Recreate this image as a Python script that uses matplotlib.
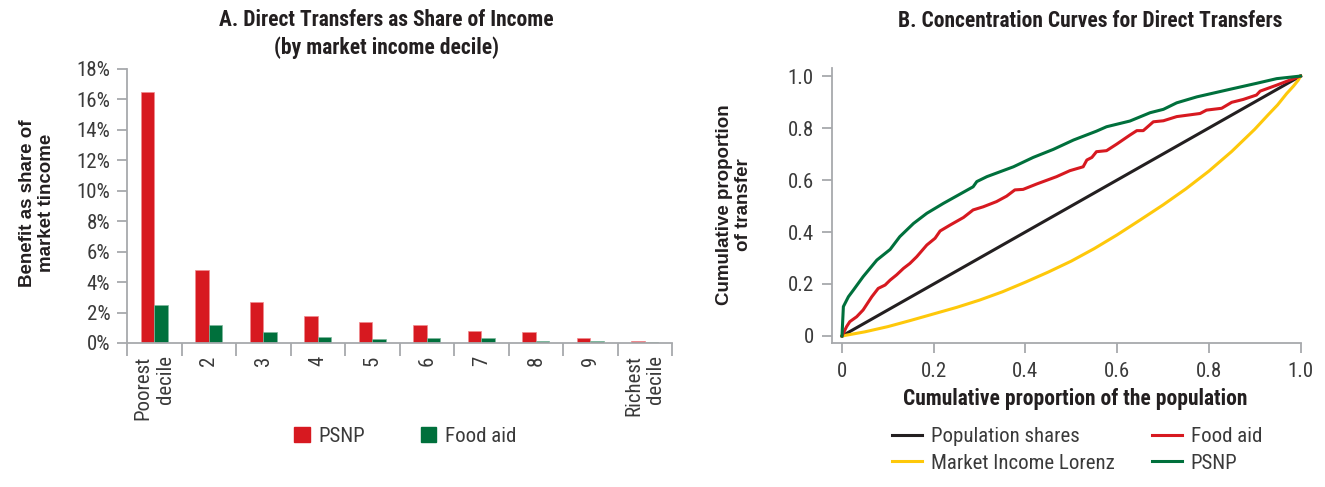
import matplotlib
matplotlib.use("Agg")
import matplotlib.pyplot as plt
from matplotlib import font_manager
from matplotlib.patches import Patch
from matplotlib.lines import Line2D

# fonts: narrow family for most text, regular width for the rotated y labels
names = {f.name for f in font_manager.fontManager.ttflist}
narrow = next((f for f in ["Liberation Sans Narrow", "Roboto Condensed", "DejaVu Sans"] if f in names), "DejaVu Sans")
wide = "Liberation Sans" if "Liberation Sans" in names else "DejaVu Sans"
plt.rcParams["font.family"] = [narrow, "DejaVu Sans"]

# %%
# Panel A data: transfers as % of market income, by decile
deciles = ["Poorest\ndecile", "2", "3", "4", "5", "6", "7", "8", "9", "Richest\ndecile"]
psnp_share = [16.5, 4.8, 2.7, 1.8, 1.35, 1.15, 0.8, 0.7, 0.35, 0.1]
food_share = [2.5, 1.15, 0.75, 0.38, 0.25, 0.35, 0.3, 0.1, 0.1, 0.05]
pct_ticks = [0, 2, 4, 6, 8, 10, 12, 14, 16, 18]

# Panel B data: concentration curves
pop_x = [0.0, 1.0]
pop_y = [0.0, 1.0]

lorenz_x = [0.0, 0.05, 0.10, 0.15, 0.20, 0.25, 0.30, 0.35, 0.40, 0.45, 0.50, 0.55, 0.60, 0.65,
            0.70, 0.75, 0.80, 0.85, 0.90, 0.93, 0.95, 0.97, 0.985, 0.995, 1.0]
lorenz_y = [0.0, 0.016, 0.036, 0.060, 0.085, 0.110, 0.138, 0.170, 0.207, 0.246, 0.288, 0.336,
            0.389, 0.446, 0.504, 0.566, 0.634, 0.710, 0.795, 0.852, 0.889, 0.933, 0.962, 0.984, 1.0]

food_x = [0.0, 0.010, 0.017, 0.032, 0.046, 0.065, 0.079, 0.094, 0.105, 0.119, 0.134, 0.148, 0.163,
          0.185, 0.203, 0.214, 0.236, 0.265, 0.286, 0.308, 0.337, 0.359, 0.377, 0.395, 0.425, 0.468,
          0.497, 0.526, 0.534, 0.545, 0.555, 0.577, 0.599, 0.628, 0.643, 0.657, 0.679, 0.701, 0.730,
          0.781, 0.795, 0.828, 0.850, 0.875, 0.904, 0.912, 0.948, 1.0]
food_y = [0.0, 0.036, 0.055, 0.074, 0.100, 0.151, 0.183, 0.196, 0.215, 0.235, 0.260, 0.279, 0.305,
          0.350, 0.376, 0.404, 0.427, 0.456, 0.485, 0.497, 0.517, 0.538, 0.562, 0.564, 0.585, 0.613,
          0.636, 0.651, 0.677, 0.687, 0.709, 0.713, 0.738, 0.773, 0.790, 0.790, 0.824, 0.828, 0.844,
          0.856, 0.869, 0.876, 0.899, 0.910, 0.927, 0.942, 0.965, 1.0]

psnp_x = [0.0, 0.003, 0.014, 0.025, 0.046, 0.076, 0.105, 0.126, 0.156, 0.185, 0.221, 0.286, 0.294,
          0.316, 0.374, 0.417, 0.461, 0.505, 0.555, 0.577, 0.628, 0.672, 0.701, 0.730, 0.774, 0.846,
          0.904, 0.948, 1.0]
psnp_y = [0.0, 0.113, 0.151, 0.177, 0.228, 0.292, 0.333, 0.382, 0.433, 0.472, 0.510, 0.574, 0.594,
          0.613, 0.651, 0.687, 0.718, 0.754, 0.788, 0.805, 0.827, 0.859, 0.872, 0.897, 0.920, 0.949,
          0.972, 0.990, 1.0]
frac_ticks = [0, 0.2, 0.4, 0.6, 0.8, 1.0]
frac_labels = ["0", "0.2", "0.4", "0.6", "0.8", "1.0"]

RED = "#d71920"
GREEN = "#00703c"
YELLOW = "#fec80a"
BLACK = "#231f20"
GRAY = "#a7a9ac"
TXT = "#3a3a3a"

W, H = 1325, 487
fig = plt.figure(figsize=(W / 100, H / 100), dpi=100)


def style_axes(ax):
    for s in ["top", "right"]:
        ax.spines[s].set_visible(False)
    for s in ["left", "bottom"]:
        ax.spines[s].set_color(GRAY)
        ax.spines[s].set_linewidth(1.3)
    ax.tick_params(which="both", color=GRAY, width=1.3, length=7, labelsize=15, labelcolor=TXT)


# %%
# Panel A: bars
axA = fig.add_axes([127 / W, 1 - 343 / H, 545 / W, 274 / H])
style_axes(axA)
xs = range(len(deciles))
bw = 0.25
axA.bar([x - bw / 2 for x in xs], psnp_share, width=bw, color=RED, edgecolor="#f08a8e", linewidth=0.5, label="PSNP")
axA.bar([x + bw / 2 for x in xs], food_share, width=bw, color=GREEN, edgecolor="#7fb79d", linewidth=0.5, label="Food aid")
axA.set_xlim(-0.5, len(deciles) - 0.5)
axA.set_ylim(0, 18)
axA.set_yticks(pct_ticks)
axA.set_yticklabels([f"{v}%" for v in pct_ticks])
axA.set_xticks(list(xs))
axA.set_xticklabels(deciles, rotation=90, va="top", ha="center", multialignment="right")
axA.set_xticks([x - 0.5 for x in range(len(deciles) + 1)], minor=True)
axA.tick_params(axis="x", which="major", length=0, pad=9)
axA.tick_params(axis="x", which="minor", length=9)
axA.tick_params(axis="y", pad=5)
axA.spines["left"].set_bounds(0, 18)

fig.text(386 / W, 1 - 34 / H, "A. Direct Transfers as Share of Income\n(by market income decile)",
         ha="center", va="center", fontsize=15.5, fontweight="bold", color=BLACK, linespacing=1.3)
fig.text(37 / W, 1 - 203 / H, "Benefit as share of\nmarket tincome", rotation=90, ha="center", va="center",
         fontsize=13.5, fontweight="bold", color=BLACK, family=wide, linespacing=1.15)

fig.legend(handles=[Patch(color=RED, label="PSNP"), Patch(color=GREEN, label="Food aid")],
           loc="center", bbox_to_anchor=(405 / W, 1 - 436 / H), ncol=2, frameon=False,
           fontsize=15, handlelength=0.75, handleheight=0.75, handletextpad=0.4, columnspacing=2.7,
           labelcolor=TXT)

# %%
# Panel B: concentration curves
axB = fig.add_axes([832 / W, 1 - 343 / H, 468.5 / W, 275 / H])
style_axes(axB)
lw = 2.2
axB.plot(pop_x, pop_y, color=BLACK, lw=lw, clip_on=False, label="Population shares")
axB.plot(lorenz_x, lorenz_y, color=YELLOW, lw=lw, clip_on=False, label="Market Income Lorenz")
axB.plot(food_x, food_y, color=RED, lw=lw, clip_on=False, label="Food aid")
axB.plot(psnp_x, psnp_y, color=GREEN, lw=lw, clip_on=False, label="PSNP")
axB.set_xlim(-0.0218, 1.0)
axB.set_ylim(-0.027, 1.031)
axB.set_xticks(frac_ticks)
axB.set_xticklabels(frac_labels)
axB.set_yticks(frac_ticks)
axB.set_yticklabels(frac_labels)
axB.tick_params(axis="x", pad=7)
axB.tick_params(axis="y", pad=6)

fig.text(1090 / W, 1 - 21 / H, "B. Concentration Curves for Direct Transfers",
         ha="center", va="center", fontsize=15.5, fontweight="bold", color=BLACK)
fig.text(1075 / W, 1 - 399 / H, "Cumulative proportion of the population",
         ha="center", va="center", fontsize=15.5, fontweight="bold", color=BLACK)
fig.text(734 / W, 1 - 205 / H, "Cumulative proportion\nof transfer", rotation=90, ha="center", va="center",
         fontsize=13.5, fontweight="bold", color=BLACK, family=wide, linespacing=1.15)

fig.legend(handles=[Line2D([], [], color=BLACK, lw=lw, label="Population shares"),
                    Line2D([], [], color=YELLOW, lw=lw, label="Market Income Lorenz"),
                    Line2D([], [], color=RED, lw=lw, label="Food aid"),
                    Line2D([], [], color=GREEN, lw=lw, label="PSNP")],
           loc="center", bbox_to_anchor=(1077 / W, 1 - 450 / H), ncol=2, frameon=False,
           fontsize=15, handlelength=1.45, handletextpad=0.4, columnspacing=1.8, labelspacing=0.35,
           labelcolor=TXT)

fig.savefig("out.png", dpi=100, facecolor="white")
